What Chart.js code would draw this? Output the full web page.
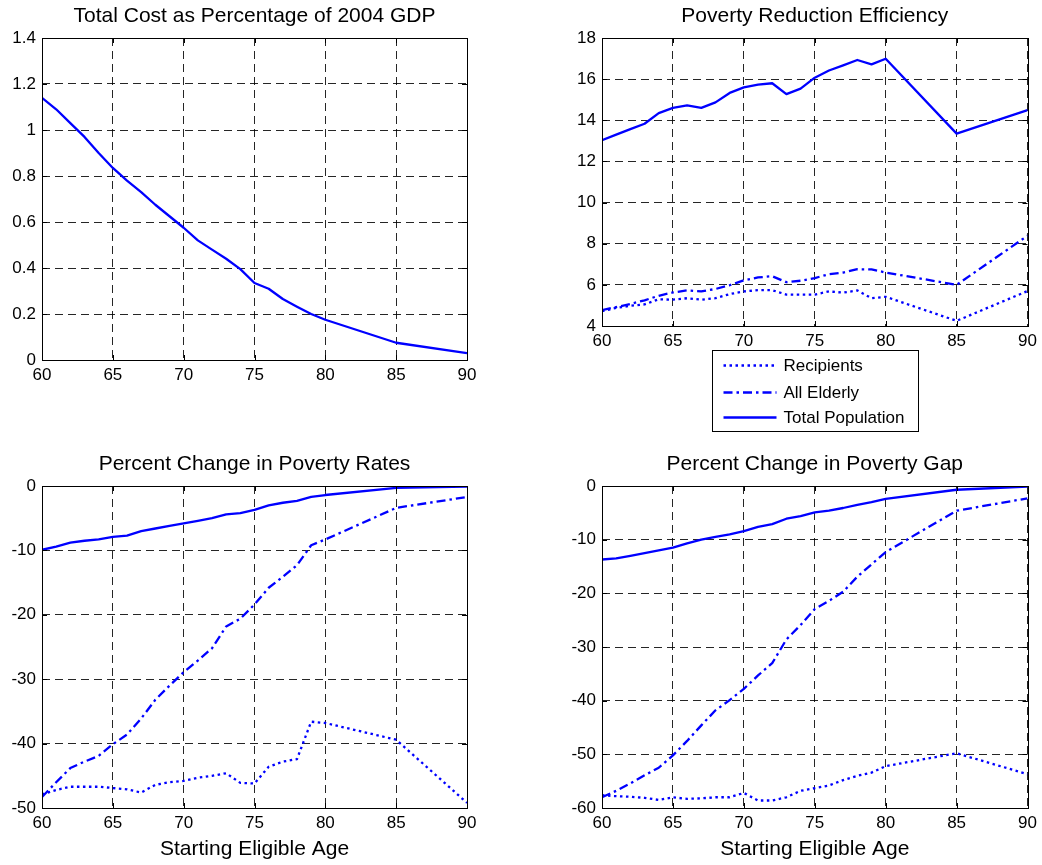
<!DOCTYPE html>
<html>
<head>
<meta charset="utf-8">
<script src="https://cdn.jsdelivr.net/npm/chart.js@4.4.1/dist/chart.umd.min.js"></script>
<style>
  html, body { margin: 0; padding: 0; background: #ffffff; }
  body { width: 1042px; height: 865px; position: relative; overflow: hidden; }
  canvas { position: absolute; }
</style>
</head>
<body>
<canvas id="c1" width="520" height="400" style="left:0px;top:0px;width:520px;height:400px"></canvas>
<canvas id="c2" width="482" height="440" style="left:560px;top:0px;width:482px;height:440px"></canvas>
<canvas id="c3" width="520" height="417" style="left:0px;top:448px;width:520px;height:417px"></canvas>
<canvas id="c4" width="482" height="417" style="left:560px;top:448px;width:482px;height:417px"></canvas>
<script>
// ---------------- data ----------------
const ages = [60,61,62,63,64,65,66,67,68,69,70,71,72,73,74,75,76,77,78,79,80,85,90];

const costGDP = [1.14,1.09,1.03,0.97,0.90,0.835,0.78,0.73,0.675,0.625,0.575,0.52,0.48,0.44,0.395,0.335,0.31,0.265,0.232,0.20,0.175,0.075,0.03];

const effRecipients = [4.72,4.88,4.98,5.05,5.30,5.28,5.35,5.28,5.35,5.55,5.68,5.74,5.74,5.53,5.52,5.53,5.68,5.62,5.73,5.35,5.42,4.25,5.70];
const effElderly    = [4.77,4.92,5.07,5.25,5.47,5.63,5.73,5.68,5.80,5.98,6.22,6.36,6.42,6.13,6.20,6.33,6.52,6.60,6.76,6.75,6.60,6.00,8.39];
const effTotal      = [13.03,13.30,13.57,13.83,14.35,14.60,14.72,14.60,14.87,15.33,15.60,15.73,15.80,15.27,15.54,16.07,16.42,16.67,16.93,16.72,16.99,13.35,14.49];

const rateRecipients = [-47.9,-47.2,-46.7,-46.7,-46.7,-46.9,-47.1,-47.6,-46.4,-46.0,-45.8,-45.3,-45.0,-44.6,-46.1,-46.2,-43.6,-42.8,-42.4,-36.6,-36.8,-39.4,-49.2];
const rateElderly    = [-48.3,-46.0,-43.8,-42.8,-41.9,-40.1,-38.6,-36.1,-33.2,-31.0,-28.9,-27.1,-25.2,-21.8,-20.6,-18.4,-15.8,-14.1,-12.3,-9.2,-8.3,-3.4,-1.7];
const rateTotal      = [-9.9,-9.4,-8.8,-8.5,-8.3,-7.9,-7.7,-7.0,-6.6,-6.2,-5.8,-5.4,-5.0,-4.4,-4.2,-3.7,-3.0,-2.6,-2.3,-1.7,-1.4,-0.3,-0.1];

const gapRecipients = [-57.6,-57.8,-57.9,-58.1,-58.5,-58.0,-58.3,-58.2,-58.0,-58.0,-57.2,-58.6,-58.6,-58.0,-56.8,-56.3,-55.8,-54.8,-54.0,-53.4,-52.2,-49.8,-53.7];
const gapElderly    = [-58.0,-56.8,-55.4,-53.9,-52.5,-50.2,-47.5,-44.6,-41.8,-39.9,-37.8,-35.3,-33.0,-28.6,-25.9,-22.9,-21.4,-19.7,-16.9,-14.6,-12.3,-4.6,-2.3];
const gapTotal      = [-13.7,-13.5,-13.0,-12.5,-12.0,-11.5,-10.7,-10.0,-9.5,-9.0,-8.4,-7.6,-7.1,-6.1,-5.6,-4.9,-4.6,-4.1,-3.5,-3.0,-2.4,-0.7,-0.1];

const titles = [
  'Total Cost as Percentage of 2004 GDP',
  'Poverty Reduction Efficiency',
  'Percent Change in Poverty Rates',
  'Percent Change in Poverty Gap'
];
const seriesNames = ['Recipients', 'All Elderly', 'Total Population'];
const xTitle = 'Starting Eligible Age';

// ---------------- styles ----------------
const FONT = '"Liberation Sans", Arial, Helvetica, sans-serif';
const BLUE = '#0000ff';
const DOTTED = [2.5, 3.5];
const DASHDOT = [9, 4, 2.5, 4];
const SOLID = [];

function pts(ys) { return ages.map((a, i) => ({ x: a, y: ys[i] })); }

function ds(label, ys, dash) {
  return {
    label: label,
    data: pts(ys),
    borderColor: BLUE,
    backgroundColor: BLUE,
    borderWidth: 2.3,
    borderDash: dash,
    borderCapStyle: 'butt',
    borderJoinStyle: 'round',
    pointRadius: 0,
    tension: 0,
    fill: false
  };
}

function fmt(v) { return String(Number(Number(v).toFixed(4))); }

// frame + inward tick marks (MATLAB style box)
const framePlugin = {
  id: 'frame',
  afterDraw(chart) {
    const { ctx, chartArea: a, scales } = chart;
    ctx.save();
    ctx.strokeStyle = '#000';
    ctx.lineWidth = 1;
    ctx.setLineDash([]);
    const L = 5;
    ctx.beginPath();
    scales.x.ticks.forEach(t => {
      const px = Math.round(scales.x.getPixelForValue(t.value)) + 0.5;
      ctx.moveTo(px, a.bottom); ctx.lineTo(px, a.bottom - L);
      ctx.moveTo(px, a.top); ctx.lineTo(px, a.top + L);
    });
    scales.y.ticks.forEach(t => {
      const py = Math.round(scales.y.getPixelForValue(t.value)) + 0.5;
      ctx.moveTo(a.left, py); ctx.lineTo(a.left + L, py);
      ctx.moveTo(a.right, py); ctx.lineTo(a.right - L, py);
    });
    ctx.stroke();
    ctx.strokeRect(Math.round(a.left) + 0.5, Math.round(a.top) + 0.5,
                   Math.round(a.right - a.left), Math.round(a.bottom - a.top));
    ctx.restore();
  }
};

// boxed legend drawn below the chart area (top-right panel)
const boxLegendPlugin = {
  id: 'boxLegend',
  afterDraw(chart) {
    const { ctx, chartArea: a } = chart;
    const w = 206, h = 81;
    const left = Math.round((a.left + a.right) / 2 - w / 2) + 0.5;
    const top = Math.round(a.bottom + 24) + 0.5;
    ctx.save();
    ctx.fillStyle = '#fff';
    ctx.fillRect(left, top, w, h);
    ctx.strokeStyle = '#000';
    ctx.lineWidth = 1;
    ctx.setLineDash([]);
    ctx.strokeRect(left, top, w, h);
    const rows = [15, 42, 67];
    ctx.font = '17px ' + FONT;
    ctx.textBaseline = 'middle';
    ctx.textAlign = 'left';
    chart.data.datasets.forEach((d, i) => {
      const y = top + rows[i];
      ctx.strokeStyle = d.borderColor;
      ctx.lineWidth = d.borderWidth;
      ctx.lineCap = 'butt';
      ctx.setLineDash(d.borderDash || []);
      ctx.beginPath();
      ctx.moveTo(left + 11, y);
      ctx.lineTo(left + 64, y);
      ctx.stroke();
      ctx.setLineDash([]);
      ctx.fillStyle = '#000';
      ctx.fillText(d.label, left + 71, y + 1);
    });
    ctx.restore();
  }
};

function makeChart(id, title, datasets, yMin, yMax, yStep, opts) {
  const plugins = [framePlugin];
  if (opts.legend) plugins.push(boxLegendPlugin);
  return new Chart(document.getElementById(id), {
    type: 'line',
    data: { datasets: datasets },
    plugins: plugins,
    options: {
      responsive: false,
      animation: false,
      devicePixelRatio: 1,
      layout: { padding: { left: 0, right: opts.padRight, top: 0, bottom: opts.padBottom } },
      plugins: {
        legend: { display: false },
        tooltip: { enabled: false },
        title: {
          display: true,
          fullSize: false,
          text: title,
          color: '#000',
          font: { family: FONT, size: 21, weight: 'normal', lineHeight: 1.2 },
          padding: { top: 4, bottom: 8.8 }
        }
      },
      scales: {
        x: {
          type: 'linear',
          min: 60, max: 90,
          afterFit(s) { s.height = opts.xHeight; },
          ticks: { stepSize: 5, color: '#000', padding: 5, maxRotation: 0,
                   font: { family: FONT, size: 17 }, callback: fmt },
          grid: { color: 'rgba(0,0,0,0.85)', lineWidth: 1, drawTicks: false },
          border: { display: false, dash: [8, 5] },
          title: {
            display: !!opts.xTitle,
            text: opts.xTitle || '',
            color: '#000',
            font: { family: FONT, size: 21, lineHeight: 1.2 },
            padding: { top: 0, bottom: 3.4 }
          }
        },
        y: {
          type: 'linear',
          min: yMin, max: yMax,
          afterFit(s) { s.width = 42; },
          ticks: { stepSize: yStep, color: '#000', padding: 6,
                   font: { family: FONT, size: 17 }, callback: fmt },
          grid: { color: 'rgba(0,0,0,0.85)', lineWidth: 1, drawTicks: false },
          border: { display: false, dash: [8, 5] }
        }
      }
    }
  });
}

makeChart('c1', titles[0], [ds('Total Cost', costGDP, SOLID)], 0, 1.4, 0.2,
  { padRight: 53, padBottom: 0, xHeight: 40 });

makeChart('c2', titles[1], [
  ds(seriesNames[0], effRecipients, DOTTED),
  ds(seriesNames[1], effElderly, DASHDOT),
  ds(seriesNames[2], effTotal, SOLID)
], 4, 18, 2, { padRight: 14, padBottom: 74, xHeight: 40, legend: true });

makeChart('c3', titles[2], [
  ds(seriesNames[0], rateRecipients, DOTTED),
  ds(seriesNames[1], rateElderly, DASHDOT),
  ds(seriesNames[2], rateTotal, SOLID)
], -50, 0, 10, { padRight: 53, padBottom: 0, xHeight: 57, xTitle: xTitle });

makeChart('c4', titles[3], [
  ds(seriesNames[0], gapRecipients, DOTTED),
  ds(seriesNames[1], gapElderly, DASHDOT),
  ds(seriesNames[2], gapTotal, SOLID)
], -60, 0, 10, { padRight: 14, padBottom: 0, xHeight: 57, xTitle: xTitle });
</script>
</body>
</html>
